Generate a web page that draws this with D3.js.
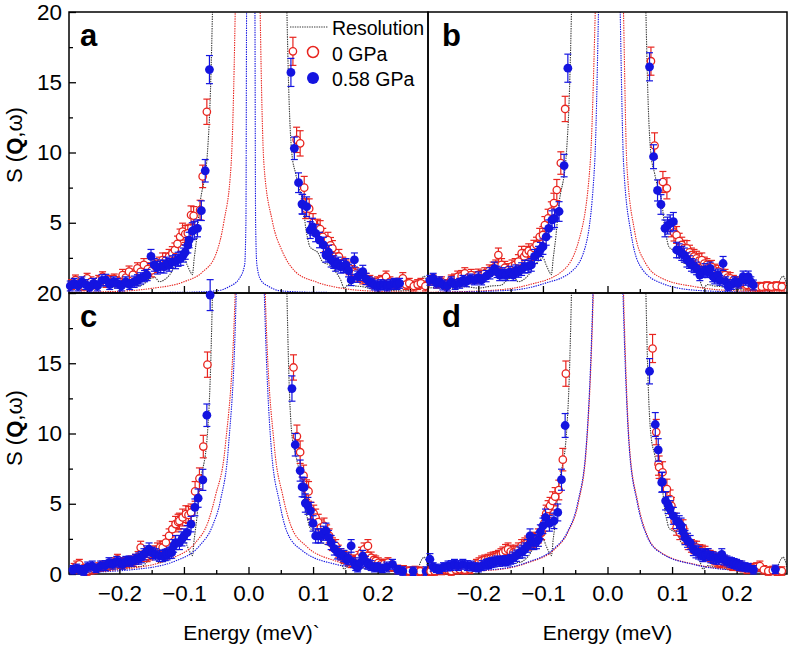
<!DOCTYPE html>
<html>
<head>
<meta charset="utf-8">
<script src="https://cdn.jsdelivr.net/npm/d3@7"></script>
<style>
  body { margin: 0; background: #fff; }
  svg text { font-family: "Liberation Sans", Arial, Helvetica, sans-serif; }
</style>
</head>
<body>
<div id="chart"></div>
<script>
// axis settings
const energyDomain = [-0.278, 0.278];
const sDomain = [0, 20];
const xTicks = [-0.2, -0.1, 0.0, 0.1, 0.2];
const xMinorTicks = [-0.25, -0.15, -0.05, 0.05, 0.15, 0.25];
const yTicks = [0, 5, 10, 15, 20];
const yMinorTicks = [2.5, 7.5, 12.5, 17.5];
const legendLabels = ['Resolution', '0 GPa', '0.58 GPa'];

// instrument resolution [E, S]
const resolution = [[-0.278,0.35],[-0.26,0.4],[-0.24,0.3],[-0.22,0.45],[-0.2,0.35],[-0.18,0.5],[-0.165,0.55],
  [-0.155,0.95],[-0.145,1.1],[-0.138,0.8],[-0.13,0.95],[-0.122,1.3],[-0.113,2.0],[-0.106,2.3],[-0.1,2.5],
  [-0.095,2.0],[-0.09,1.5],[-0.087,1.3],[-0.084,2.5],[-0.08,4.0],[-0.076,6.0],[-0.0636,10],[-0.0585,15],
  [-0.0558,20],[-0.05,35],[0.002,140],[0.054,35],[0.0595,20],[0.062,15],[0.067,10],[0.073,8.5],[0.078,7.5],
  [0.084,6.5],[0.089,4.5],[0.0915,3.9],[0.095,3.3],[0.1,3.1],[0.107,2.9],[0.115,2.2],[0.125,2.0],[0.135,1.5],
  [0.143,0.9],[0.148,0.35],[0.155,0.6],[0.165,0.5],[0.177,0.45],[0.19,0.3],[0.2,0.25],[0.218,0.2],[0.235,0.15],
  [0.25,0.2],[0.262,0.4],[0.268,1.0],[0.272,1.2],[0.278,0.5]];

// fitted curves [E, S]
const fitRedA = [[-0.278,0.05],[-0.2,0.12],[-0.15,0.33],[-0.1,0.8],[-0.071,1.5],[-0.051,2.7],[-0.038,5.1],[-0.027,9.1],
  [-0.0206,20],[-0.015,40],[-0.001,90],[0.013,40],[0.0181,20],[0.024,9.1],[0.037,5.1],[0.053,2.9],[0.073,1.5],
  [0.104,0.8],[0.146,0.33],[0.2,0.12],[0.278,0.05]];
const fitBlueA = [[-0.278,0.01],[-0.1,0.05],[-0.05,0.15],[-0.03,0.45],[-0.014,1.05],[-0.006,2.0],[-0.004,5],
  [-0.003,20],[0.003,90],[0.010,20],[0.011,5],[0.013,2.0],[0.019,0.93],[0.032,0.45],[0.05,0.15],[0.1,0.05],[0.278,0.01]];
const fitRedB = [[-0.278,0.05],[-0.175,0.2],[-0.123,0.57],[-0.071,1.52],[-0.045,3.65],[-0.027,9.1],[-0.019,20],
  [0.003,90],[0.0248,20],[0.030,9.1],[0.042,4.4],[0.058,2.2],[0.084,1.05],[0.135,0.45],[0.2,0.15],[0.278,0.07]];
const fitBlueB = [[-0.278,0.03],[-0.149,0.2],[-0.097,0.69],[-0.056,1.52],[-0.035,3.18],[-0.02,9.1],[-0.014,20],
  [0.003,90],[0.0197,20],[0.025,9.1],[0.037,4.1],[0.053,1.75],[0.084,0.69],[0.135,0.2],[0.2,0.08],[0.278,0.03]];
const fitRedC = [[-0.278,0.1],[-0.175,0.45],[-0.123,1.05],[-0.082,2.24],[-0.063,3.66],[-0.051,5.6],[-0.036,9.1],
  [-0.0206,20],[0.002,90],[0.0259,20],[0.040,9.1],[0.053,5.6],[0.066,3.4],[0.089,2.0],[0.135,0.93],[0.187,0.45],[0.278,0.15]];
const fitBlueC = [[-0.278,0.08],[-0.175,0.33],[-0.113,0.93],[-0.076,2.0],[-0.056,3.4],[-0.043,5.33],[-0.031,9.1],
  [-0.019,20],[0.002,90],[0.0245,20],[0.035,9.1],[0.048,5.1],[0.060,2.95],[0.084,1.64],[0.135,0.69],[0.2,0.3],[0.278,0.12]];
const fitRedD = [[-0.278,0.1],[-0.175,0.29],[-0.123,0.81],[-0.082,1.76],[-0.061,3.0],[-0.045,5.1],[-0.0325,9.1],
  [-0.022,20],[0.001,90],[0.0248,20],[0.034,9.1],[0.047,5.1],[0.062,2.7],[0.083,1.52],[0.135,0.69],[0.187,0.33],[0.278,0.12]];
const fitBlueD = [[-0.278,0.12],[-0.175,0.33],[-0.123,0.85],[-0.083,1.8],[-0.062,3.0],[-0.046,5.1],[-0.033,9.1],
  [-0.0225,20],[0.001,90],[0.024,20],[0.0335,9.1],[0.046,5.1],[0.061,2.7],[0.082,1.52],[0.135,0.66],[0.187,0.3],[0.278,0.1]];

// measured points [E, S, error]  (0 GPa = red, 0.58 GPa = blue)
const ptsRedA = [[-0.274,0.6,0.35],[-0.268,0.93,0.35],[-0.262,0.7,0.35],[-0.256,0.5,0.3],[-0.25,1.05,0.35],[-0.244,0.8,0.35],
  [-0.238,0.6,0.3],[-0.232,0.9,0.35],[-0.226,1.16,0.35],[-0.22,0.75,0.35],[-0.214,0.9,0.35],[-0.208,1.0,0.35],[-0.202,0.8,0.35],
  [-0.195,1.28,0.4],[-0.19,1.1,0.4],[-0.185,1.52,0.4],[-0.179,1.3,0.4],[-0.172,1.75,0.4],[-0.167,1.5,0.4],[-0.162,2.0,0.45],
  [-0.156,1.7,0.45],[-0.15,1.6,0.45],[-0.144,1.9,0.45],[-0.138,2.1,0.45],[-0.133,2.35,0.5],[-0.128,2.35,0.5],[-0.123,2.6,0.5],
  [-0.118,2.8,0.5],[-0.114,3.06,0.5],[-0.11,3.5,0.55],[-0.106,4.0,0.55],[-0.102,4.37,0.6],[-0.098,4.2,0.6],[-0.094,4.25,0.6],
  [-0.089,5.55,0.65],[-0.085,5.5,0.65],[-0.075,5.9,0.7],[-0.071,8.3,0.8],[-0.0645,12.9,0.9],
  [0.0688,17.2,1.0],[0.0745,10.9,0.9],[0.080,10.65,0.9],[0.0863,7.5,0.8],[0.0886,6.0,0.7],[0.094,6.0,0.7],[0.1,5.0,0.65],
  [0.107,4.65,0.6],[0.111,4.55,0.6],[0.115,4.0,0.6],[0.119,3.5,0.55],[0.123,3.77,0.55],[0.127,3.4,0.55],[0.130,3.18,0.55],
  [0.135,2.35,0.5],[0.14,2.6,0.5],[0.146,2.1,0.45],[0.151,1.9,0.45],[0.156,1.75,0.45],[0.161,1.5,0.45],[0.166,1.4,0.4],
  [0.171,1.2,0.4],[0.177,1.05,0.4],[0.182,1.0,0.4],[0.188,0.9,0.35],[0.194,0.7,0.35],[0.200,0.8,0.35],[0.206,0.9,0.35],
  [0.213,1.16,0.4],[0.219,0.8,0.35],[0.226,0.6,0.35],[0.232,0.7,0.35],[0.239,1.05,0.4],[0.244,0.6,0.35],[0.249,0.69,0.35],
  [0.256,0.5,0.35],[0.262,0.6,0.35],[0.267,0.69,0.35],[0.274,0.5,0.35]];
const ptsBlueA = [[-0.276,0.5,0.35],[-0.27,0.69,0.35],[-0.264,0.5,0.35],[-0.258,0.8,0.35],[-0.252,0.6,0.35],[-0.246,0.4,0.35],
  [-0.24,0.69,0.35],[-0.234,0.5,0.35],[-0.227,0.9,0.4],[-0.221,0.93,0.4],[-0.215,0.6,0.35],[-0.209,0.8,0.35],[-0.203,0.69,0.35],
  [-0.197,0.5,0.35],[-0.19,0.8,0.35],[-0.184,0.6,0.35],[-0.177,0.8,0.4],[-0.172,0.9,0.4],[-0.167,1.04,0.4],[-0.161,1.2,0.4],
  [-0.157,1.28,0.4],[-0.151,2.6,0.5],[-0.146,2.0,0.45],[-0.141,1.8,0.45],[-0.136,1.9,0.45],[-0.131,1.87,0.45],[-0.127,2.1,0.45],
  [-0.123,2.0,0.45],[-0.118,2.2,0.45],[-0.113,2.23,0.5],[-0.109,2.4,0.5],[-0.105,2.47,0.5],[-0.101,2.7,0.5],[-0.098,2.9,0.5],
  [-0.094,3.4,0.55],[-0.092,3.77,0.55],[-0.087,4.4,0.6],[-0.084,4.5,0.6],[-0.079,4.6,0.6],[-0.073,5.86,0.7],[-0.067,8.7,0.8],
  [-0.0605,15.9,1.0],
  [0.0657,15.7,1.0],[0.071,10.3,0.8],[0.0775,7.85,0.7],[0.0828,6.33,0.7],[0.0838,6.31,0.7],[0.090,6.14,0.7],[0.0956,4.48,0.6],
  [0.099,4.72,0.6],[0.104,4.25,0.6],[0.11,3.77,0.55],[0.116,3.42,0.55],[0.12,2.7,0.5],[0.124,2.9,0.5],[0.128,2.35,0.5],
  [0.132,2.2,0.45],[0.135,2.0,0.45],[0.139,2.1,0.45],[0.143,1.87,0.45],[0.147,1.9,0.45],[0.151,2.0,0.45],[0.155,1.6,0.45],
  [0.159,0.93,0.4],[0.164,2.35,0.5],[0.169,1.16,0.4],[0.173,1.3,0.4],[0.177,1.52,0.45],[0.182,1.0,0.4],[0.187,0.8,0.35],
  [0.191,0.7,0.35],[0.195,0.57,0.35],[0.2,0.5,0.35],[0.205,0.6,0.35],[0.21,0.57,0.35],[0.215,0.5,0.35],[0.22,0.6,0.35],
  [0.226,0.69,0.35],[0.23,0.6,0.35],[0.234,0.69,0.35]];

const ptsRedB = [[-0.27,0.93,0.35],[-0.264,0.7,0.35],[-0.257,0.8,0.35],[-0.25,0.6,0.35],[-0.242,0.93,0.35],[-0.237,1.0,0.35],
  [-0.232,1.16,0.4],[-0.226,1.2,0.4],[-0.221,1.4,0.4],[-0.216,1.1,0.4],[-0.211,1.28,0.4],[-0.205,1.1,0.4],[-0.2,1.3,0.4],
  [-0.195,1.2,0.4],[-0.19,1.4,0.4],[-0.183,1.6,0.4],[-0.177,1.75,0.45],[-0.173,1.9,0.45],[-0.169,2.7,0.5],[-0.164,2.0,0.45],
  [-0.159,1.8,0.45],[-0.154,1.64,0.45],[-0.148,1.9,0.45],[-0.143,2.0,0.45],[-0.138,2.23,0.5],[-0.133,2.82,0.5],[-0.129,2.6,0.5],
  [-0.126,2.82,0.5],[-0.122,3.0,0.5],[-0.118,2.82,0.5],[-0.114,3.2,0.55],[-0.110,3.42,0.55],[-0.105,4.0,0.6],[-0.100,4.13,0.6],
  [-0.097,4.84,0.6],[-0.092,5.31,0.65],[-0.087,5.79,0.7],[-0.083,6.4,0.7],[-0.0785,7.33,0.75],[-0.0723,9.25,0.8],[-0.0656,13.1,0.9],
  [0.0673,16.5,1.0],[0.0729,10.5,0.9],[0.0858,7.9,0.75],[0.092,7.45,0.75],[0.099,4.6,0.6],[0.103,4.3,0.6],[0.107,4.13,0.6],
  [0.111,3.7,0.55],[0.115,3.42,0.55],[0.119,3.2,0.55],[0.123,3.18,0.55],[0.127,2.9,0.5],[0.130,2.7,0.5],[0.134,2.6,0.5],
  [0.138,2.47,0.5],[0.142,2.3,0.5],[0.146,2.35,0.5],[0.150,2.1,0.45],[0.154,2.0,0.45],[0.157,1.8,0.45],[0.161,1.87,0.45],
  [0.166,1.6,0.45],[0.172,1.52,0.45],[0.177,1.3,0.4],[0.182,1.28,0.4],[0.186,1.1,0.4],[0.190,1.05,0.4],[0.195,0.9,0.35],
  [0.200,0.8,0.35],[0.207,0.7,0.35],[0.216,0.57,0.35],[0.224,0.5,0.3],[0.232,0.45,0.3],[0.239,0.45,0.3],[0.247,0.5,0.3],
  [0.254,0.45,0.3],[0.262,0.5,0.3],[0.27,0.45,0.3]];
const ptsBlueB = [[-0.275,0.9,0.35],[-0.27,1.05,0.35],[-0.265,0.7,0.35],[-0.26,0.8,0.35],[-0.255,0.57,0.35],[-0.248,0.5,0.35],
  [-0.242,0.8,0.35],[-0.236,0.6,0.35],[-0.229,0.69,0.35],[-0.224,0.9,0.35],[-0.219,0.8,0.35],[-0.213,1.0,0.35],[-0.206,0.93,0.35],
  [-0.2,1.1,0.4],[-0.195,0.93,0.35],[-0.188,1.2,0.4],[-0.182,1.4,0.4],[-0.175,1.75,0.45],[-0.171,1.5,0.4],[-0.167,1.28,0.4],
  [-0.162,1.4,0.4],[-0.157,1.28,0.4],[-0.151,1.5,0.4],[-0.146,1.28,0.4],[-0.142,1.6,0.4],[-0.138,1.52,0.4],[-0.133,1.7,0.45],
  [-0.128,1.87,0.45],[-0.123,1.9,0.45],[-0.118,2.0,0.45],[-0.113,2.6,0.5],[-0.107,2.82,0.5],[-0.104,3.1,0.5],[-0.100,3.3,0.55],
  [-0.095,4.0,0.6],[-0.091,4.6,0.6],[-0.086,5.2,0.65],[-0.082,5.31,0.65],[-0.075,5.8,0.7],[-0.0672,9.07,0.8],[-0.0614,16.0,1.0],
  [0.0651,16.1,1.0],[0.0713,9.7,0.85],[0.0775,7.3,0.75],[0.0828,6.3,0.7],[0.089,4.6,0.6],[0.093,4.8,0.6],[0.097,4.96,0.6],
  [0.102,5.08,0.65],[0.107,3.06,0.55],[0.111,3.0,0.5],[0.115,2.82,0.5],[0.119,2.7,0.5],[0.123,2.35,0.5],[0.127,2.2,0.45],
  [0.130,2.0,0.45],[0.134,1.9,0.45],[0.138,1.75,0.45],[0.143,1.28,0.4],[0.147,1.5,0.4],[0.151,1.64,0.45],[0.155,1.5,0.4],
  [0.159,1.75,0.45],[0.163,1.2,0.4],[0.166,1.05,0.4],[0.171,1.3,0.4],[0.174,0.9,0.35],[0.179,2.1,0.5],[0.183,0.8,0.35],
  [0.187,0.45,0.3],[0.192,0.6,0.35],[0.197,0.8,0.35],[0.203,0.7,0.35],[0.210,1.16,0.4],[0.214,0.9,0.35],[0.218,1.16,0.4],
  [0.222,0.8,0.35],[0.226,0.57,0.35]];

const ptsRedC = [[-0.27,0.4,0.35],[-0.266,0.57,0.35],[-0.262,0.69,0.35],[-0.256,0.4,0.3],[-0.25,0.21,0.3],[-0.244,0.3,0.3],
  [-0.239,0.33,0.3],[-0.232,0.5,0.3],[-0.226,0.57,0.35],[-0.219,0.6,0.35],[-0.213,0.69,0.35],[-0.208,0.8,0.35],[-0.203,1.05,0.35],
  [-0.198,0.75,0.35],[-0.193,0.81,0.35],[-0.188,0.85,0.35],[-0.182,0.93,0.35],[-0.178,0.9,0.35],[-0.175,1.05,0.35],[-0.171,1.2,0.4],
  [-0.167,1.88,0.45],[-0.162,1.3,0.4],[-0.157,1.28,0.4],[-0.153,1.4,0.4],[-0.149,1.52,0.4],[-0.145,1.6,0.4],[-0.141,1.76,0.45],
  [-0.137,1.9,0.45],[-0.133,1.88,0.45],[-0.128,2.24,0.5],[-0.123,2.71,0.5],[-0.118,3.19,0.55],[-0.113,3.55,0.55],[-0.109,3.7,0.55],
  [-0.107,3.78,0.55],[-0.102,4.02,0.6],[-0.097,4.26,0.6],[-0.093,4.2,0.6],[-0.089,4.38,0.6],[-0.0827,5.88,0.7],[-0.076,6.8,0.75],
  [-0.070,9.07,0.8],[-0.0636,14.9,0.9],
  [0.0697,14.7,0.9],[0.075,9.8,0.8],[0.080,8.67,0.8],[0.0853,7.0,0.75],[0.090,6.0,0.7],[0.093,5.88,0.7],[0.097,4.5,0.6],
  [0.101,4.3,0.6],[0.104,4.02,0.6],[0.108,3.7,0.55],[0.112,3.3,0.55],[0.117,3.43,0.55],[0.121,3.0,0.5],[0.125,2.71,0.5],
  [0.130,2.12,0.45],[0.135,2.0,0.45],[0.139,1.6,0.45],[0.143,1.4,0.4],[0.147,1.2,0.4],[0.151,1.16,0.4],[0.155,1.0,0.4],
  [0.159,0.81,0.35],[0.163,1.0,0.35],[0.166,0.93,0.35],[0.171,1.2,0.4],[0.175,1.5,0.4],[0.179,1.76,0.45],[0.185,2.0,0.45],
  [0.190,1.16,0.4],[0.194,1.0,0.35],[0.197,0.93,0.35],[0.201,0.8,0.35],[0.205,0.69,0.35],[0.210,0.7,0.35],[0.216,0.81,0.35],
  [0.222,0.5,0.3],[0.231,0.33,0.3],[0.24,0.3,0.3],[0.249,0.21,0.3],[0.258,0.25,0.3],[0.266,0.2,0.3]];
const ptsBlueC = [[-0.272,0.3,0.3],[-0.266,0.4,0.3],[-0.26,0.3,0.3],[-0.255,0.21,0.3],[-0.249,0.5,0.35],[-0.242,0.57,0.35],
  [-0.236,0.4,0.3],[-0.229,0.57,0.35],[-0.222,0.6,0.35],[-0.216,0.81,0.35],[-0.21,0.7,0.35],[-0.204,0.9,0.35],[-0.199,0.8,0.35],
  [-0.195,0.69,0.35],[-0.19,0.9,0.35],[-0.185,0.93,0.35],[-0.18,0.9,0.35],[-0.175,1.05,0.35],[-0.17,1.1,0.4],[-0.166,1.2,0.4],
  [-0.162,1.4,0.4],[-0.158,1.6,0.4],[-0.154,1.76,0.45],[-0.149,1.5,0.4],[-0.144,1.4,0.4],[-0.138,1.3,0.4],[-0.133,1.28,0.4],
  [-0.129,1.35,0.4],[-0.126,1.4,0.4],[-0.122,1.5,0.4],[-0.119,1.52,0.4],[-0.116,2.0,0.45],[-0.113,2.24,0.5],[-0.107,2.24,0.5],
  [-0.103,2.5,0.5],[-0.1,2.71,0.5],[-0.095,2.95,0.5],[-0.089,3.55,0.55],[-0.083,4.74,0.6],[-0.078,5.4,0.65],[-0.0707,6.7,0.75],
  [-0.0645,11.3,0.8],[-0.0594,19.85,1.1],
  [0.0673,13.2,0.9],[0.0724,9.2,0.8],[0.080,7.36,0.75],[0.083,6.2,0.7],[0.086,6.16,0.7],[0.088,5.05,0.65],[0.092,4.85,0.6],
  [0.096,4.5,0.6],[0.100,3.6,0.55],[0.104,2.71,0.5],[0.108,2.71,0.5],[0.112,2.71,0.5],[0.116,2.9,0.5],[0.120,3.07,0.55],
  [0.124,2.6,0.5],[0.128,2.24,0.5],[0.133,1.8,0.45],[0.138,1.52,0.45],[0.143,1.4,0.4],[0.148,1.28,0.4],[0.152,1.0,0.35],
  [0.155,1.1,0.4],[0.159,2.0,0.45],[0.163,0.8,0.35],[0.166,0.6,0.35],[0.169,0.45,0.3],[0.173,0.8,0.35],[0.177,1.28,0.4],
  [0.181,0.9,0.35],[0.185,0.69,0.35],[0.19,0.6,0.35],[0.195,0.45,0.3],[0.2,0.5,0.3],[0.207,0.4,0.3],[0.214,0.5,0.35],
  [0.223,0.69,0.35],[0.231,0.3,0.3],[0.239,0.21,0.3],[0.255,0.2,0.3],[0.275,0.21,0.3]];

const ptsRedD = [[-0.274,0.2,0.3],[-0.268,0.21,0.3],[-0.262,0.3,0.3],[-0.257,0.25,0.3],[-0.252,0.33,0.3],[-0.247,0.3,0.3],
  [-0.242,0.21,0.3],[-0.235,0.3,0.3],[-0.229,0.33,0.3],[-0.221,0.3,0.3],[-0.213,0.33,0.3],[-0.208,0.5,0.3],[-0.203,0.69,0.35],
  [-0.199,0.8,0.35],[-0.195,0.93,0.35],[-0.19,1.0,0.35],[-0.185,1.05,0.35],[-0.181,1.1,0.4],[-0.177,1.16,0.4],[-0.173,1.2,0.4],
  [-0.169,1.28,0.4],[-0.165,1.4,0.4],[-0.162,1.52,0.4],[-0.158,1.65,0.45],[-0.154,1.76,0.45],[-0.150,1.6,0.45],[-0.146,1.52,0.45],
  [-0.142,1.6,0.45],[-0.138,1.76,0.45],[-0.133,2.0,0.45],[-0.128,2.12,0.45],[-0.124,2.2,0.5],[-0.120,2.24,0.5],[-0.116,2.4,0.5],
  [-0.113,2.47,0.5],[-0.107,2.71,0.5],[-0.102,2.95,0.5],[-0.098,3.6,0.55],[-0.095,4.3,0.6],[-0.092,4.62,0.6],[-0.089,4.85,0.6],
  [-0.085,5.2,0.65],[-0.0811,5.5,0.65],[-0.0754,5.98,0.7],[-0.0692,8.14,0.8],[-0.0645,14.26,0.9],
  [0.0698,16.05,1.0],[0.0755,10.1,0.9],[0.079,7.83,0.8],[0.080,7.6,0.8],[0.0853,7.24,0.75],[0.092,6.05,0.7],[0.097,5.33,0.65],
  [0.099,4.85,0.6],[0.104,3.78,0.55],[0.107,3.31,0.55],[0.112,2.95,0.5],[0.117,3.31,0.55],[0.120,2.71,0.5],[0.125,2.24,0.5],
  [0.130,2.0,0.45],[0.134,1.9,0.45],[0.138,1.88,0.45],[0.143,1.64,0.45],[0.147,1.6,0.45],[0.151,1.52,0.45],[0.155,1.4,0.4],
  [0.159,1.28,0.4],[0.163,1.2,0.4],[0.166,1.05,0.4],[0.170,0.9,0.35],[0.174,0.81,0.35],[0.178,0.85,0.35],[0.182,0.93,0.35],
  [0.186,0.8,0.35],[0.190,0.69,0.35],[0.194,0.6,0.35],[0.197,0.69,0.35],[0.201,0.6,0.35],[0.205,0.57,0.35],[0.210,0.45,0.3],
  [0.216,0.33,0.3],[0.221,0.4,0.3],[0.226,0.45,0.3],[0.231,0.5,0.3],[0.236,0.57,0.35],[0.242,0.3,0.3],[0.249,0.21,0.3],
  [0.256,0.25,0.3],[0.263,0.2,0.3],[0.27,0.21,0.3]];
const ptsBlueD = [[-0.275,1.05,0.4],[-0.27,0.5,0.3],[-0.265,0.4,0.3],[-0.26,0.33,0.3],[-0.254,0.5,0.3],[-0.247,0.57,0.35],
  [-0.242,0.6,0.35],[-0.237,0.69,0.35],[-0.231,0.6,0.35],[-0.224,0.69,0.35],[-0.217,0.6,0.35],[-0.211,0.57,0.35],[-0.205,0.5,0.3],
  [-0.2,0.45,0.3],[-0.194,0.6,0.35],[-0.188,0.69,0.35],[-0.184,0.75,0.35],[-0.18,0.81,0.35],[-0.176,0.85,0.35],[-0.172,0.93,0.35],
  [-0.167,0.9,0.35],[-0.162,0.93,0.35],[-0.158,0.95,0.35],[-0.154,0.93,0.35],[-0.15,1.05,0.35],[-0.146,1.16,0.4],[-0.141,1.3,0.4],
  [-0.136,1.52,0.4],[-0.132,1.6,0.45],[-0.128,1.76,0.45],[-0.124,2.0,0.45],[-0.120,2.71,0.5],[-0.117,2.3,0.5],[-0.114,2.24,0.5],
  [-0.11,2.3,0.5],[-0.107,2.47,0.5],[-0.104,3.0,0.5],[-0.1,3.43,0.55],[-0.096,4.02,0.6],[-0.09,3.6,0.55],[-0.083,3.78,0.55],
  [-0.077,4.38,0.6],[-0.0713,6.71,0.75],[-0.0656,10.57,0.85],
  [0.0651,14.43,0.9],[0.074,10.64,0.85],[0.0786,8.83,0.8],[0.084,6.52,0.7],[0.085,6.55,0.7],[0.090,5.21,0.65],[0.094,4.9,0.6],
  [0.097,4.62,0.6],[0.102,4.14,0.6],[0.107,3.78,0.55],[0.111,3.6,0.55],[0.114,3.43,0.55],[0.117,3.0,0.5],[0.120,2.59,0.5],
  [0.124,2.4,0.5],[0.128,2.24,0.5],[0.133,1.76,0.45],[0.137,1.6,0.45],[0.141,1.52,0.45],[0.145,1.4,0.4],[0.148,1.28,0.4],
  [0.152,1.35,0.4],[0.156,1.4,0.4],[0.160,1.2,0.4],[0.164,1.16,0.4],[0.168,1.1,0.4],[0.172,1.05,0.35],[0.177,1.4,0.4],
  [0.181,1.0,0.35],[0.185,0.93,0.35],[0.189,0.85,0.35],[0.192,0.81,0.35],[0.196,0.75,0.35],[0.200,0.69,0.35],[0.204,0.6,0.35],
  [0.208,0.57,0.35],[0.213,0.5,0.3],[0.218,0.45,0.3],[0.226,0.3,0.3],[0.26,0.33,0.3]];

// layout
const width = 788;
const height = 646;
const cols = [69, 428];
const rows = [12, 293];
const panelW = 359;
const panelH = 281;
const redColor = '#e8251f';
const blueColor = '#1414e0';
const resColor = '#3a3a3a';

const panels = [
  { letter: 'a', col: 0, row: 0, red: ptsRedA, blue: ptsBlueA, fitRed: fitRedA, fitBlue: fitBlueA },
  { letter: 'b', col: 1, row: 0, red: ptsRedB, blue: ptsBlueB, fitRed: fitRedB, fitBlue: fitBlueB },
  { letter: 'c', col: 0, row: 1, red: ptsRedC, blue: ptsBlueC, fitRed: fitRedC, fitBlue: fitBlueC },
  { letter: 'd', col: 1, row: 1, red: ptsRedD, blue: ptsBlueD, fitRed: fitRedD, fitBlue: fitBlueD },
];

const svg = d3.select('#chart').append('svg').attr('width', width).attr('height', height);
svg.append('rect').attr('width', width).attr('height', height).attr('fill', '#fff');

const x = d3.scaleLinear().domain(energyDomain).range([0, panelW]);
const y = d3.scaleLinear().domain(sDomain).range([panelH, 0]);
const line = d3.line().x(d => x(d[0])).y(d => y(d[1])).curve(d3.curveMonotoneX);
const fmt = d => d3.format('.1f')(d);

function drawPoints(g, pts, color, filled) {
  const grp = g.append('g');
  const bars = grp.selectAll('g.err').data(pts).join('g').attr('class', 'err')
    .attr('stroke', color).attr('stroke-width', 1.2);
  bars.append('line').attr('x1', d => x(d[0])).attr('x2', d => x(d[0]))
    .attr('y1', d => y(d[1] - d[2])).attr('y2', d => y(d[1] + d[2]));
  bars.append('line').attr('x1', d => x(d[0]) - 3.5).attr('x2', d => x(d[0]) + 3.5)
    .attr('y1', d => y(d[1] + d[2])).attr('y2', d => y(d[1] + d[2]));
  bars.append('line').attr('x1', d => x(d[0]) - 3.5).attr('x2', d => x(d[0]) + 3.5)
    .attr('y1', d => y(d[1] - d[2])).attr('y2', d => y(d[1] - d[2]));
  grp.selectAll('circle').data(pts).join('circle')
    .attr('cx', d => x(d[0])).attr('cy', d => y(d[1]))
    .attr('r', filled ? 4.4 : 3.7)
    .attr('fill', filled ? color : '#fff')
    .attr('stroke', color).attr('stroke-width', filled ? 0 : 1.3);
}

panels.forEach(p => {
  const g = svg.append('g').attr('transform', `translate(${cols[p.col]},${rows[p.row]})`);
  const clipId = 'clip-' + p.letter;
  g.append('clipPath').attr('id', clipId).append('rect').attr('width', panelW).attr('height', panelH);

  const curves = g.append('g').attr('clip-path', `url(#${clipId})`).attr('fill', 'none')
    .attr('stroke-width', 1.1).attr('stroke-dasharray', '1.4,1');
  curves.append('path').datum(resolution).attr('d', line).attr('stroke', resColor);
  curves.append('path').datum(p.fitRed).attr('d', line).attr('stroke', redColor);
  curves.append('path').datum(p.fitBlue).attr('d', line).attr('stroke', blueColor);

  g.append('rect').attr('width', panelW).attr('height', panelH)
    .attr('fill', 'none').attr('stroke', '#000').attr('stroke-width', 1.5);

  // x ticks (inward), labels only on the bottom row
  const xa = g.append('g').attr('transform', `translate(0,${panelH})`)
    .call(d3.axisBottom(x).tickValues(xTicks).tickSize(-7).tickPadding(11)
      .tickFormat(p.row === 1 ? fmt : () => ''));
  const xm = g.append('g').attr('transform', `translate(0,${panelH})`)
    .call(d3.axisBottom(x).tickValues(xMinorTicks).tickSize(-4).tickFormat(() => ''));
  [xa, xm].forEach(a => {
    a.select('.domain').remove();
    a.attr('font-size', 22.5).selectAll('line').attr('stroke-width', 1.3);
  });

  if (p.col === 0) {
    // the top panel's 0 sits under the lower panel's 20
    const ya = g.append('g')
      .call(d3.axisLeft(y).tickValues(p.row === 0 ? yTicks.filter(v => v > 0) : yTicks)
        .tickSize(-7).tickPadding(7));
    const ym = g.append('g')
      .call(d3.axisLeft(y).tickValues(yMinorTicks).tickSize(-4).tickFormat(() => ''));
    [ya, ym].forEach(a => {
      a.select('.domain').remove();
      a.attr('font-size', 22.5).selectAll('line').attr('stroke-width', 1.3);
    });
  }

  drawPoints(g, p.red, redColor, false);
  drawPoints(g, p.blue, blueColor, true);

  g.append('text').attr('x', p.col === 0 ? 11 : 14).attr('y', 34)
    .attr('font-size', 31).attr('font-weight', 'bold').text(p.letter);
});

// legend (panel a)
const lg = svg.append('g');
lg.append('line').attr('x1', 290).attr('x2', 328).attr('y1', 27).attr('y2', 27)
  .attr('stroke', resColor).attr('stroke-width', 1.1).attr('stroke-dasharray', '1.4,1');
lg.append('circle').attr('cx', 313).attr('cy', 52).attr('r', 5.5)
  .attr('fill', '#fff').attr('stroke', redColor).attr('stroke-width', 1.5);
lg.append('circle').attr('cx', 313).attr('cy', 78).attr('r', 6).attr('fill', blueColor);
lg.selectAll('text').data(legendLabels).join('text')
  .attr('x', 332).attr('y', (d, i) => 35 + i * 25.5)
  .attr('font-size', 19.5).text(d => d);

// axis titles
rows.forEach((r, i) => {
  const t = svg.append('text')
    .attr('transform', `translate(22,${r + (i === 0 ? 133 : 135)}) rotate(-90)`)
    .attr('text-anchor', 'middle').attr('font-size', 22);
  t.append('tspan').text('S (');
  t.append('tspan').attr('font-weight', 'bold').text('Q');
  t.append('tspan').text(',ω)');
});
svg.append('text').attr('x', cols[0] + panelW / 2 + 3).attr('y', 640)
  .attr('text-anchor', 'middle').attr('font-size', 21).text('Energy (meV)`');
svg.append('text').attr('x', cols[1] + panelW / 2).attr('y', 640)
  .attr('text-anchor', 'middle').attr('font-size', 21).text('Energy (meV)');
</script>
</body>
</html>
